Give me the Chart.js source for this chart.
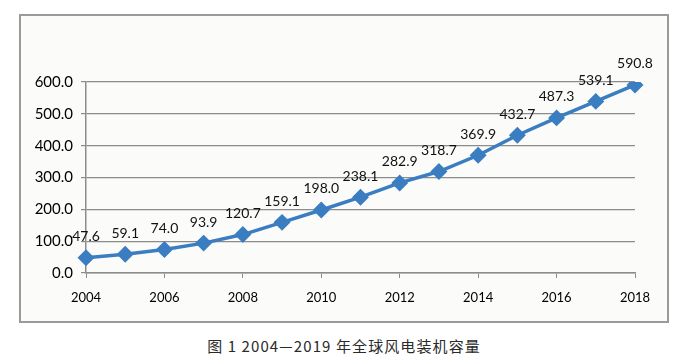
<!DOCTYPE html>
<html>
<head>
<meta charset="utf-8">
<script src="https://cdn.jsdelivr.net/npm/chart.js@4"></script>
<style>
  body { margin: 0; background: #fff; width: 688px; height: 360px; position: relative; overflow: hidden; }
  #frame { position: absolute; left: 19px; top: 14px; width: 646px; height: 305px; border: 2px solid #9a9a9a; background: #fbfbfa; }
  #caption { position: absolute; left: 0; width: 688px; top: 335px; text-align: center; font-family: "Noto Sans CJK SC", sans-serif; font-size: 15px; color: #2a2a2a; letter-spacing: 1.1px; }
</style>
</head>
<body>
<div id="frame"><canvas id="chart" width="646" height="305"></canvas></div>
<div id="caption">图 1 2004—2019 年全球风电装机容量</div>
<script>
const years = ["2004", "2005", "2006", "2007", "2008", "2009", "2010", "2011", "2012", "2013", "2014", "2015", "2016", "2017", "2018"];
const capacity = [47.6, 59.1, 74.0, 93.9, 120.7, 159.1, 198.0, 238.1, 282.9, 318.7, 369.9, 432.7, 487.3, 539.1, 590.8];

const lineColor = "#3a7dc0";
const fontFamily = "Lato, 'Liberation Sans', sans-serif";

// draws the value above each point, like excel data labels
const valueLabels = {
  id: "valueLabels",
  afterDatasetsDraw(chart) {
    const ctx = chart.ctx;
    const meta = chart.getDatasetMeta(0);
    ctx.save();
    ctx.font = "14px " + fontFamily;
    ctx.fillStyle = "#111";
    ctx.textAlign = "center";
    ctx.textBaseline = "middle";
    meta.data.forEach((pt, i) => {
      ctx.fillText(capacity[i].toFixed(1), pt.x, pt.y - 21);
    });
    ctx.restore();
  },
};

new Chart(document.getElementById("chart").getContext("2d"), {
  type: "line",
  data: {
    labels: years,
    datasets: [
      {
        data: capacity,
        borderColor: lineColor,
        backgroundColor: lineColor,
        borderWidth: 3.5,
        pointStyle: "rectRot",
        pointRadius: 6,
        pointHoverRadius: 6,
        tension: 0,
      },
    ],
  },
  options: {
    responsive: false,
    animation: false,
    events: [],
    layout: { padding: { left: 0, right: 32, top: 66, bottom: 18 } },
    plugins: { legend: { display: false }, tooltip: { enabled: false } },
    scales: {
      x: {
        offset: false,
        afterFit: (s) => { s.height = 30; },
        border: { color: "#8c8c8c", width: 1.5 },
        grid: {
          drawOnChartArea: false,
          tickLength: 5,
          color: (c) => (c.index % 2 === 0 ? "#8c8c8c" : "rgba(0,0,0,0)"),
        },
        ticks: {
          autoSkip: false,
          maxRotation: 0,
          padding: 12,
          color: "#000",
          font: { family: fontFamily, size: 13 },
          callback: (v, i) => (i % 2 === 0 ? years[i] : ""),
        },
      },
      y: {
        min: 0,
        max: 600,
        afterFit: (s) => { s.width = 65; },
        border: { color: "#8c8c8c", width: 1.5 },
        grid: { color: "#8c8c8c", lineWidth: 1.2, tickLength: 5 },
        ticks: {
          stepSize: 100,
          padding: 8,
          color: "#000",
          font: { family: fontFamily, size: 15 },
          callback: (v) => v.toFixed(1),
        },
      },
    },
  },
  plugins: [valueLabels],
});
</script>
</body>
</html>
